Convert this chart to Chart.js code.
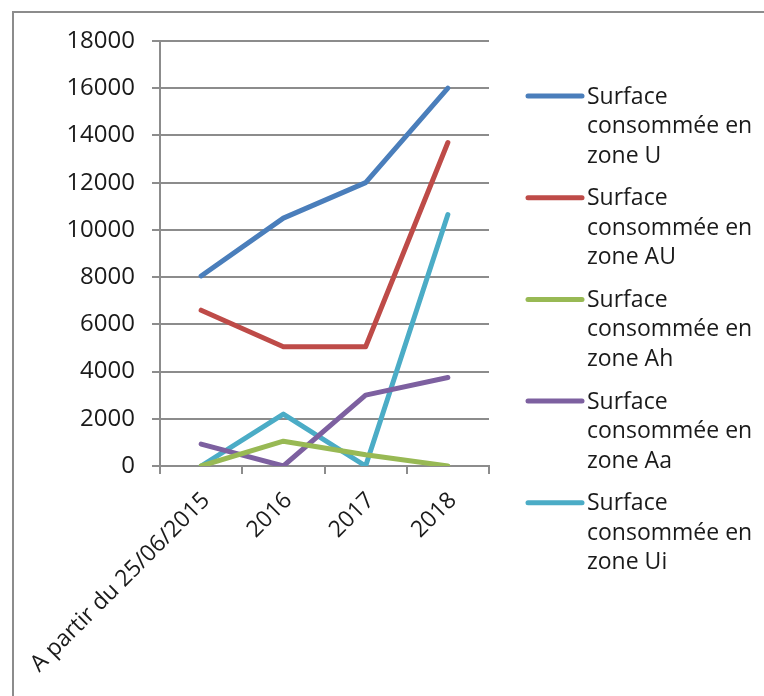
<!DOCTYPE html>
<html>
<head>
<meta charset="utf-8">
<script src="https://cdn.jsdelivr.net/npm/chart.js@4"></script>
<style>
  html, body { margin: 0; padding: 0; background: #fff; overflow: hidden; }
  #wrap { position: relative; width: 764px; height: 696px; }
  #frame { position: absolute; left: 12px; top: 11px; width: 800px; height: 800px;
           border: 2px solid #8c8c8c; box-sizing: border-box; }
  canvas { position: absolute; left: 0; top: 0; }
</style>
</head>
<body>
<div id="wrap">
  <div id="frame"></div>
  <canvas id="chart" width="764" height="696"></canvas>
</div>
<script>
// categories (x axis)
var categories = ["A partir du 25/06/2015", "2016", "2017", "2018"];

// surfaces consommées, one array per zone
var zoneU  = [8050, 10500, 12000, 16000];
var zoneAU = [6600, 5050, 5050, 13700];
var zoneAh = [0, 1050, 480, 0];
var zoneAa = [930, 0, 3000, 3750];
var zoneUi = [0, 2200, 0, 10650];

// legend text, split the way it wraps in the picture
var seriesNames = [
    ["Surface", "consommée en", "zone U"],
    ["Surface", "consommée en", "zone AU"],
    ["Surface", "consommée en", "zone Ah"],
    ["Surface", "consommée en", "zone Aa"],
    ["Surface", "consommée en", "zone Ui"]
];
var seriesColors = ["#4a7ebb", "#be4b48", "#98b954", "#7d60a0", "#4bacc6"];

var FONT = "'Open Sans', sans-serif";

// draws the wrapped legend on the right of the plot
var sideLegend = {
    id: 'sideLegend',
    afterDraw: function(chart) {
        var ctx = chart.ctx;
        var area = chart.chartArea;
        var x0 = area.right + 39;   // start of the line sample
        var y0 = 96;                // centre of the first item
        ctx.save();
        ctx.font = "23px " + FONT;
        ctx.textBaseline = "middle";
        ctx.textAlign = "left";
        chart.data.datasets.forEach(function(ds, i) {
            var y = y0 + i * 101.7;
            ctx.strokeStyle = ds.borderColor;
            ctx.lineWidth = 5;
            ctx.lineCap = "round";
            ctx.beginPath();
            ctx.moveTo(x0, y);
            ctx.lineTo(x0 + 54, y);
            ctx.stroke();
            ctx.fillStyle = "#1a1a1a";
            ds.label.forEach(function(line, j) {
                ctx.fillText(line, x0 + 59, y + 1 + j * 29.5);
            });
        });
        ctx.restore();
    }
};

function makeSet(values, i) {
    return {
        label: seriesNames[i],
        data: values,
        borderColor: seriesColors[i],
        backgroundColor: seriesColors[i],
        borderWidth: 5,
        borderCapStyle: 'round',
        borderJoinStyle: 'round',
        pointRadius: 0,
        tension: 0,
        fill: false
    };
}

var ctx = document.getElementById("chart").getContext('2d');
var chart = new Chart(ctx, {
    type: 'line',
    data: {
        labels: categories,
        datasets: [zoneU, zoneAU, zoneAh, zoneAa, zoneUi].map(makeSet)
    },
    options: {
        responsive: false,
        animation: false,
        devicePixelRatio: 1,
        layout: { padding: { top: 41, right: 275, bottom: 0, left: 0 } },
        plugins: {
            legend: { display: false },
            tooltip: { enabled: false }
        },
        scales: {
            x: {
                offset: true,
                grid: {
                    offset: true,
                    drawOnChartArea: false,
                    color: '#8c8c8c',
                    lineWidth: 2,
                    tickLength: 8
                },
                border: { color: '#8c8c8c', width: 2 },
                ticks: {
                    color: '#1a1a1a',
                    font: { family: FONT, size: 23 },
                    minRotation: 45,
                    maxRotation: 45,
                    padding: 13,
                    labelOffset: 5,
                    autoSkip: false
                },
                afterFit: function(scale) {
                    scale.height = 230;
                    // the long first label may overflow to the left, as in the original
                    scale.paddingLeft = 0;
                    scale.paddingRight = 0;
                }
            },
            y: {
                min: 0,
                max: 18000,
                grid: {
                    color: '#8c8c8c',
                    lineWidth: 2,
                    tickLength: 8
                },
                border: { color: '#8c8c8c', width: 2 },
                ticks: {
                    stepSize: 2000,
                    color: '#1a1a1a',
                    font: { family: FONT, size: 24 },
                    padding: 17,
                    callback: function(v) { return String(v); }
                },
                afterFit: function(scale) { scale.width = 160; }
            }
        }
    },
    plugins: [sideLegend]
});
</script>
</body>
</html>
